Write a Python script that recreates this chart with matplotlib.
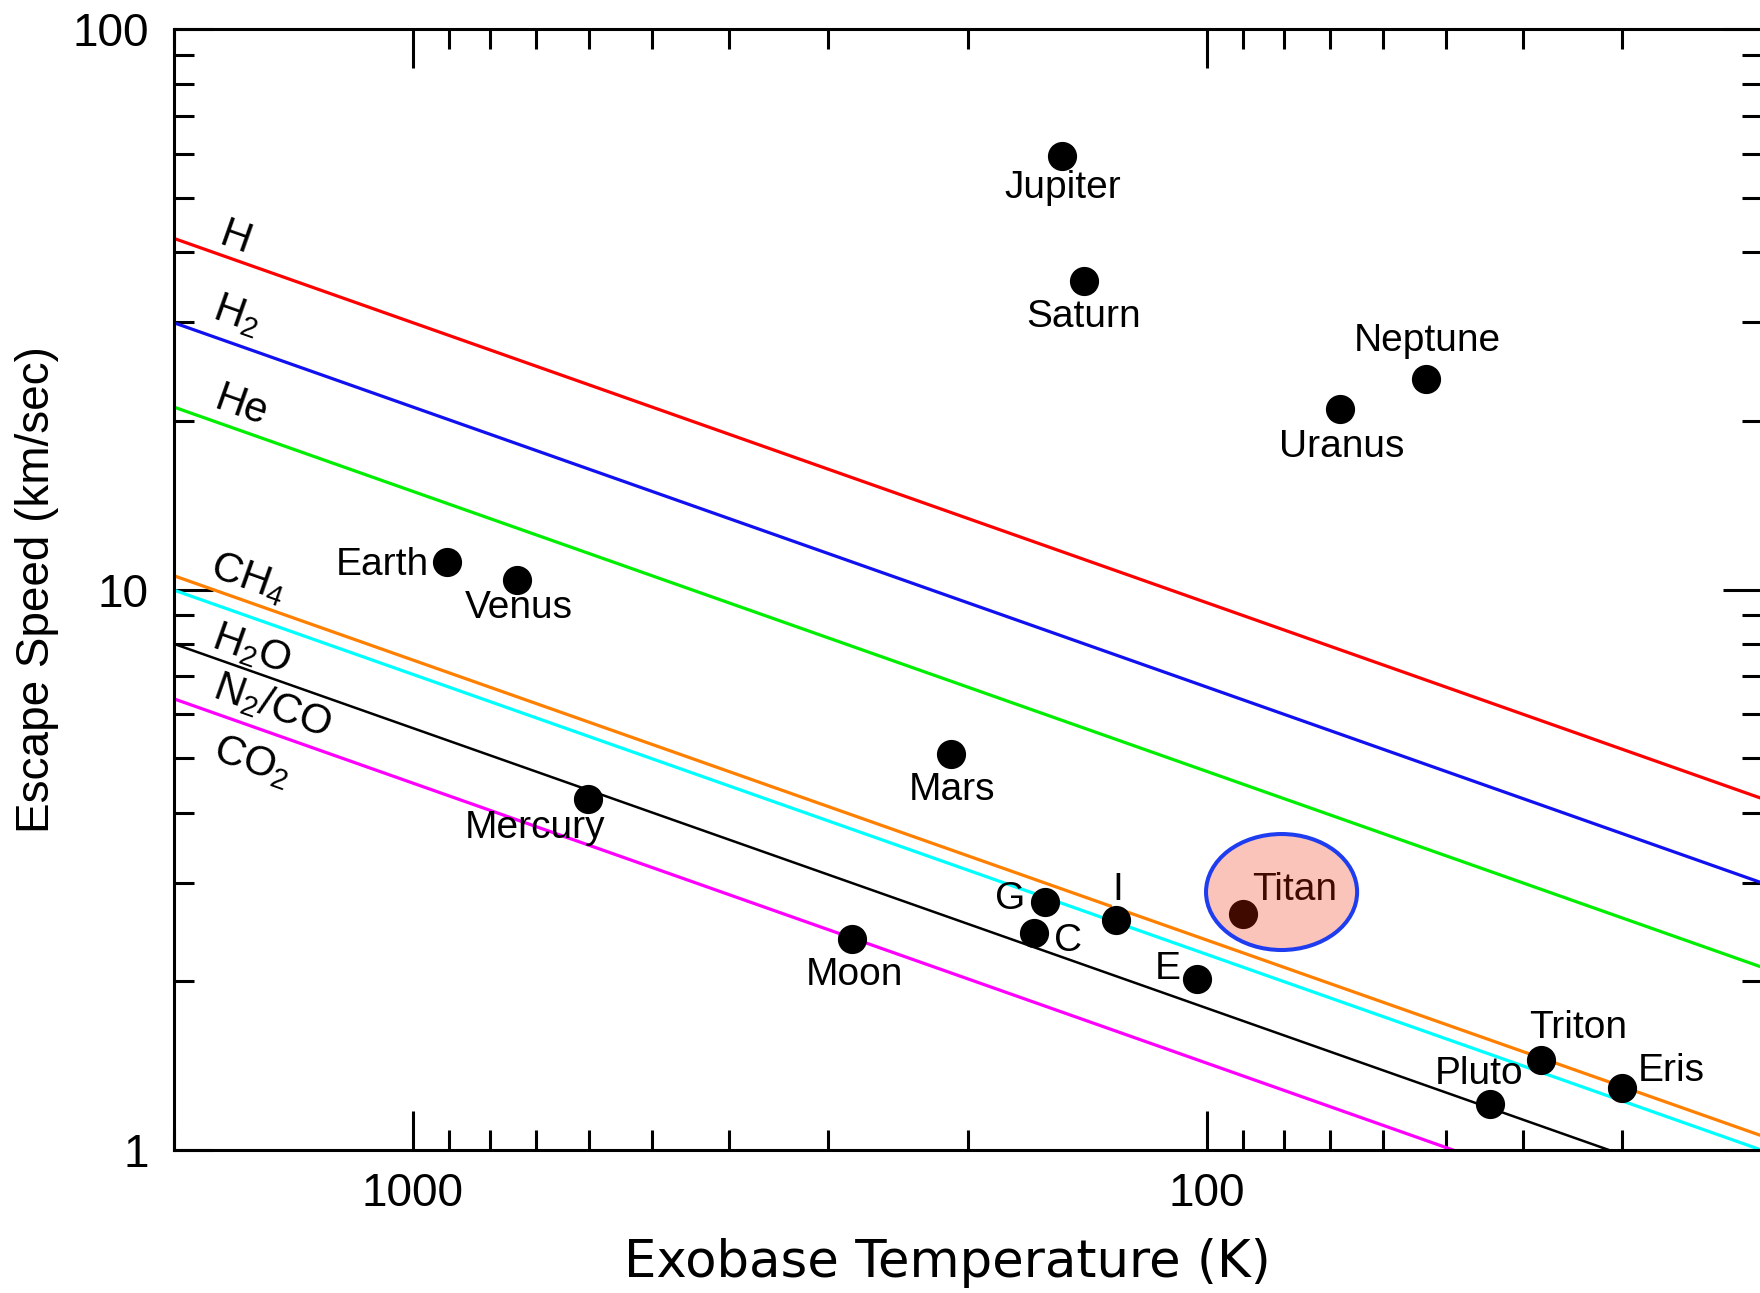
import numpy as np
import matplotlib.pyplot as plt
from matplotlib.patches import Ellipse
from matplotlib.ticker import NullFormatter

plt.rcParams['font.family'] = ['Liberation Sans', 'DejaVu Sans']

# escape-lines: gas species and their molecular mass (amu)
species = ["H", r"$\mathregular{H_2}$", "He", r"$\mathregular{CH_4}$",
           r"$\mathregular{H_2O}$", r"$\mathregular{N_2/CO}$", r"$\mathregular{CO_2}$"]
masses = [1, 2, 4, 16, 18, 28, 44]
line_colors = ["#ff0000", "#1010f0", "#00ee00", "#ff8000", "#00ffff", "#000000", "#ff00ff"]
line_T = [2000, 20]

# bodies: exobase temperature (K) and escape speed (km/s)
bodies = ["Jupiter", "Saturn", "Uranus", "Neptune", "Earth", "Venus", "Mars", "Mercury",
          "Moon", "G", "C", "I", "E", "Titan", "Triton", "Pluto", "Eris"]
temps = [152, 143, 68, 53, 904, 739, 210, 601, 280, 160, 165, 130, 103, 90, 38, 44, 30]
speeds = [59.4, 35.6, 21.0, 23.8, 11.2, 10.4, 5.1, 4.23, 2.38, 2.77, 2.44, 2.57, 2.02,
          2.64, 1.45, 1.21, 1.29]

# label offsets (points) from each dot
offsets = {"Jupiter": (0, -23), "Saturn": (0, -26), "Uranus": (1, -27), "Neptune": (1, 27),
           "Earth": (-47, -2), "Venus": (1, -20), "Mars": (1, -26), "Mercury": (-38, -21),
           "Moon": (2, -26), "G": (-25, 2), "C": (24, -6), "I": (1, 22), "E": (-21, 7),
           "Titan": (37, 17), "Triton": (27, 23), "Pluto": (-8, 21), "Eris": (35, 12)}
# where the species names sit (T, v)
species_pos = [(1673, 42.3), (1663, 30.9), (1641, 21.2), (1609, 10.5), (1594, 7.83),
               (1503, 6.22), (1594, 4.94)]

k = 1.380649e-23
amu = 1.66054e-27

fig = plt.figure(figsize=(17.6, 12.93), dpi=100)
ax = fig.add_axes([0.0986, 0.1106, 0.9026, 0.8667])
ax.set_xscale('log')
ax.set_yscale('log')
ax.set_xlim(2000, 20)
ax.set_ylim(1, 100)

T = np.array(line_T, dtype=float)
for m, c, name, (tx, ty) in zip(masses, line_colors, species, species_pos):
    v = 6 * np.sqrt(3 * k * T / (m * amu)) / 1000.0  # 6x rms speed, km/s
    ax.plot(T, v, color=c, lw=2.3 if c != "#000000" else 1.8, zorder=2)
    ax.text(tx, ty, name, fontsize=30, rotation=-19.5, rotation_mode='anchor',
            ha='center', va='center', zorder=4)

ax.plot(temps, speeds, 'o', color='black', ms=20, zorder=3)
for b, t, s in zip(bodies, temps, speeds):
    box = dict(boxstyle='square,pad=0.02', fc='white', ec='none') if b == "I" else None
    ax.annotate(b, (t, s), xytext=offsets[b], textcoords='offset points',
                fontsize=28, ha='center', va='center', zorder=2.5, bbox=box)

# highlight Titan
ax.add_patch(Ellipse((0.6975, 0.2302), 0.0951, 0.1035, transform=ax.transAxes,
                     facecolor=(0.93, 0.15, 0.0, 0.27), edgecolor='#1e3cf0', lw=2.9, zorder=5))

ax.set_xticks([1000, 100])
ax.set_xticklabels(["1000", "100"])
ax.set_yticks([1, 10, 100])
ax.set_yticklabels(["1", "10", "100"])
ax.xaxis.set_minor_formatter(NullFormatter())
ax.yaxis.set_minor_formatter(NullFormatter())
ax.tick_params(which='both', direction='in', top=True, right=True, width=2.2, labelsize=33)
ax.tick_params(which='major', length=28)
ax.tick_params(which='minor', length=14.5)
ax.tick_params(axis='y', pad=18)
ax.tick_params(axis='x', pad=16)
for sp in ax.spines.values():
    sp.set_linewidth(2.2)

ax.set_xlabel("Exobase Temperature (K)", fontsize=37, family='DejaVu Sans', va='center')
ax.set_ylabel("Escape Speed (km/sec)", fontsize=33)
ax.yaxis.set_label_coords(-0.072, 0.5)
ax.xaxis.set_label_coords(0.487, -0.1008)

fig.savefig("out.png", dpi=100)
